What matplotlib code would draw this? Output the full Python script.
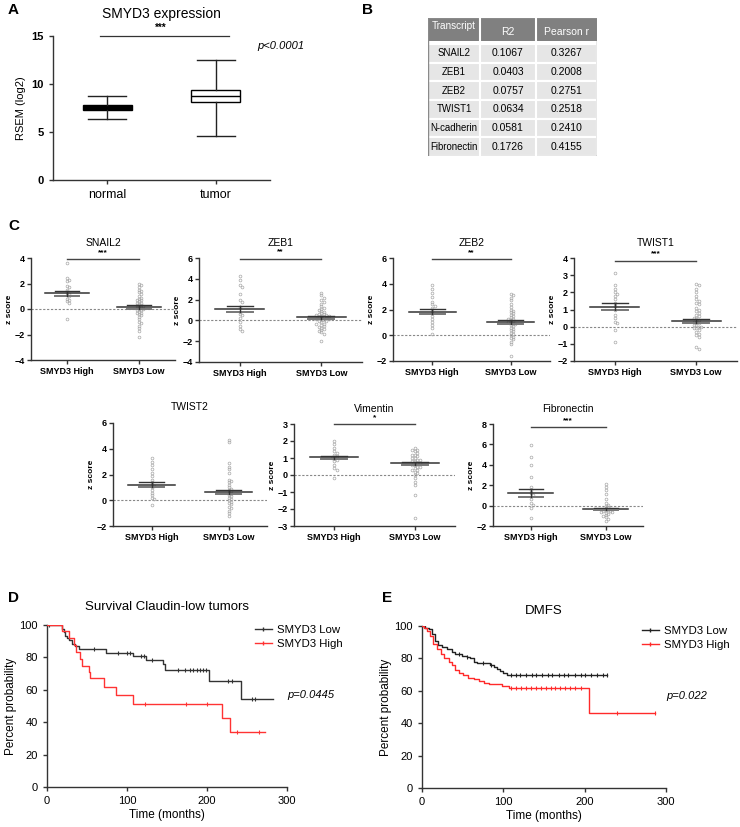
import numpy as np
import matplotlib.pyplot as plt
from matplotlib.lines import Line2D
from matplotlib.patches import Rectangle

plt.rcParams['font.family'] = ['Liberation Sans', 'DejaVu Sans']

# ---------------- data ----------------
# A: box plot summary (RSEM log2)
box_labels = ['normal', 'tumor']
box_whislo = [6.4, 4.6]
box_q1 = [7.3, 8.1]
box_med = [7.5, 8.7]
box_q3 = [7.8, 9.35]
box_whishi = [8.7, 12.5]

# B: correlation table
tbl_genes = ['SNAIL2', 'ZEB1', 'ZEB2', 'TWIST1', 'N-cadherin', 'Fibronectin']
tbl_r2 = ['0.1067', '0.0403', '0.0757', '0.0634', '0.0581', '0.1726']
tbl_pearson = ['0.3267', '0.2008', '0.2751', '0.2518', '0.2410', '0.4155']

# C: z scores per gene (SMYD3 High / SMYD3 Low)
group_labels = ['SMYD3 High', 'SMYD3 Low']
snail2_high = [3.6, 2.4, 2.3, 2.2, 1.8, 1.7, 1.5, 1.3, 1.2, 1.1, 1.0, 0.8, 0.7, 0.6, 0.5, -0.8]
snail2_low = [2.0, 1.9, 1.7, 1.5, 1.4, 1.3, 1.2, 1.0, 0.9, 0.8, 0.7, 0.7, 0.6, 0.5, 0.5, 0.4,
              0.3, 0.3, 0.2, 0.2, 0.1, 0.1, 0.0, 0.0, -0.1, -0.1, -0.2, -0.3, -0.3, -0.4,
              -0.5, -0.6, -0.8, -1.0, -1.1, -1.3, -1.5, -1.7, -2.2]
zeb1_high = [4.3, 3.9, 3.4, 3.2, 2.5, 2.0, 1.8, 1.3, 0.8, 0.6, 0.5, 0.2, -0.2, -0.5, -0.8, -1.0]
zeb1_low = [2.6, 2.4, 2.2, 2.0, 1.8, 1.6, 1.4, 1.2, 1.1, 1.0, 0.9, 0.8, 0.7, 0.6, 0.6, 0.5,
            0.5, 0.4, 0.4, 0.3, 0.3, 0.2, 0.2, 0.1, 0.1, 0.0, 0.0, -0.1, -0.1, -0.2, -0.3,
            -0.3, -0.4, -0.5, -0.6, -0.7, -0.8, -0.9, -1.0, -1.1, -1.3, -2.0]
zeb2_high = [3.9, 3.6, 3.3, 3.0, 2.6, 2.4, 2.3, 2.1, 1.9, 1.7, 1.5, 1.3, 1.0, 0.8, 0.6, 0.1]
zeb2_low = [3.2, 3.1, 2.9, 2.7, 2.4, 2.2, 2.0, 1.9, 1.8, 1.7, 1.6, 1.5, 1.4, 1.3, 1.3, 1.2,
            1.1, 1.0, 1.0, 0.9, 0.9, 0.8, 0.7, 0.6, 0.5, 0.4, 0.3, 0.2, 0.1, 0.0, -0.1,
            -0.2, -0.3, -0.5, -0.7, -1.6]
twist1_high = [3.1, 2.4, 2.2, 2.0, 1.9, 1.8, 1.6, 1.4, 1.2, 1.0, 0.7, 0.5, 0.3, 0.2, -0.2, -0.9]
twist1_low = [2.5, 2.4, 2.2, 2.0, 1.8, 1.6, 1.5, 1.4, 1.3, 1.1, 1.0, 0.9, 0.8, 0.7, 0.6, 0.5,
              0.5, 0.4, 0.3, 0.3, 0.2, 0.1, 0.1, 0.0, 0.0, -0.1, -0.1, -0.2, -0.3, -0.4,
              -0.5, -0.6, -1.2, -1.3]
twist2_high = [3.3, 3.0, 2.7, 2.4, 2.1, 1.9, 1.6, 1.4, 1.2, 1.1, 1.0, 0.8, 0.6, 0.4, 0.2, 0.1, -0.4]
twist2_low = [4.7, 4.5, 2.9, 2.6, 2.4, 2.1, 1.6, 1.5, 1.4, 1.2, 1.0, 0.9, 0.8, 0.7, 0.6, 0.5,
              0.4, 0.3, 0.2, 0.1, 0.0, -0.1, -0.2, -0.3, -0.5, -0.6, -0.8, -1.0, -1.2]
vim_high = [2.0, 1.8, 1.6, 1.4, 1.3, 1.2, 1.1, 1.0, 1.0, 0.9, 0.8, 0.6, 0.4, 0.3, -0.2]
vim_low = [1.6, 1.5, 1.5, 1.4, 1.3, 1.2, 1.2, 1.1, 1.0, 1.0, 0.9, 0.9, 0.8, 0.8, 0.7, 0.7,
           0.6, 0.6, 0.5, 0.5, 0.4, 0.3, 0.3, 0.2, 0.1, 0.0, -0.2, -0.4, -0.6, -1.2, -2.5]
fn_high = [5.9, 4.8, 4.0, 2.8, 1.8, 1.5, 1.2, 1.0, 0.6, 0.3, 0.1, -0.2, -1.2]
fn_low = [2.1, 1.8, 1.5, 1.1, 0.6, 0.3, 0.1, 0.0, -0.1, -0.2, -0.3, -0.3, -0.4, -0.4, -0.5,
          -0.5, -0.6, -0.6, -0.7, -0.8, -0.9, -1.0, -1.1, -1.3, -1.5]

# mean and SEM (High, Low)
gene_means = {'SNAIL2': (1.25, 0.15), 'ZEB1': (1.1, 0.28), 'ZEB2': (1.82, 1.05),
              'TWIST1': (1.15, 0.33), 'TWIST2': (1.22, 0.65), 'Vimentin': (1.03, 0.68),
              'Fibronectin': (1.25, -0.35)}
gene_sems = {'SNAIL2': (0.2, 0.13), 'ZEB1': (0.3, 0.12), 'ZEB2': (0.2, 0.15),
             'TWIST1': (0.2, 0.13), 'TWIST2': (0.22, 0.15), 'Vimentin': (0.08, 0.09),
             'Fibronectin': (0.38, 0.1)}
gene_sig = {'SNAIL2': '***', 'ZEB1': '**', 'ZEB2': '**', 'TWIST1': '***', 'TWIST2': '',
            'Vimentin': '*', 'Fibronectin': '***'}

# D: survival claudin-low tumors (step points and censor times, months / %)
d_low_t = [0, 18.7, 21, 23, 25, 27, 31, 35, 40, 74, 107, 124, 145, 147, 203, 242, 283]
d_low_s = [100, 97.5, 95.5, 93.5, 92, 90.5, 88, 87, 85, 83, 81, 78.5, 76, 72.5, 65.2, 54.5, 54.5]
d_low_cens = [3, 59, 89, 100, 104, 118, 121, 131, 164, 172, 179, 183, 187, 191, 195, 199,
              226, 231, 256, 260]
d_high_t = [0, 18.7, 27, 34, 36.6, 41.6, 43.6, 52, 54, 70.8, 86.4, 107, 219, 228.5, 272]
d_high_s = [100, 96, 92, 87.5, 83.5, 79, 75, 71, 67, 62, 57, 51, 42.5, 34, 34]
d_high_cens = [123, 174, 200, 238, 265]

# E: DMFS
e_low_t = [0, 4, 8, 12, 16, 20, 25, 31, 37, 41, 49, 55, 59, 64, 68, 84, 89, 92, 96, 100, 104, 228]
e_low_s = [100, 99, 98, 95, 91, 88, 87, 86, 84, 82.5, 81.5, 81, 80, 78, 77, 76, 75, 73.5, 72,
           71, 70, 70]
e_low_cens = [45, 55, 75, 85, 110, 115, 120, 128, 135, 140, 148, 155, 160, 168, 175, 180, 188,
              195, 200, 208, 215, 222, 228]
e_high_t = [0, 3, 6, 10, 14, 18, 23, 27, 33, 37, 41, 45, 51, 57, 64, 70, 76, 82, 98, 107, 205, 287]
e_high_s = [100, 99, 97, 94, 89, 86, 83, 80, 78, 76, 73, 71, 70, 68, 67, 66, 65, 64, 63, 62, 46, 46]
e_high_cens = [2, 110, 116, 122, 128, 134, 140, 146, 152, 158, 164, 170, 176, 182, 188, 195,
               240, 287]

# ---------------- figure ----------------
W, H = 740, 827
fig = plt.figure(figsize=(7.4, 8.27), dpi=100)
AX_COL = '#333333'


def add_ax(x0, y0, x1, y1):
    # axes from pixel box (top-left origin)
    return fig.add_axes([x0 / W, 1 - y1 / H, (x1 - x0) / W, (y1 - y0) / H])


def style(ax, fs, bold=False):
    for s in ['top', 'right']:
        ax.spines[s].set_visible(False)
    for s in ['left', 'bottom']:
        ax.spines[s].set_linewidth(1)
        ax.spines[s].set_color(AX_COL)
    ax.tick_params(width=1, length=3, labelsize=fs, color=AX_COL)
    if bold:
        for t in ax.get_yticklabels():
            t.set_fontweight('bold')


def panel_label(x, y, s):
    fig.text(x / W, 1 - y / H, s, fontsize=11, fontweight='bold', va='center', ha='left')


# ---- A ----
axA = add_ax(53, 36, 270, 180)
stats = []
for i in range(2):
    stats.append(dict(label=box_labels[i], whislo=box_whislo[i], q1=box_q1[i], med=box_med[i],
                      q3=box_q3[i], whishi=box_whishi[i], fliers=[]))
bp = axA.bxp(stats, positions=[0, 1], widths=0.45, capwidths=0.35, patch_artist=True,
             showfliers=False,
             boxprops=dict(linewidth=1, edgecolor='black'),
             whiskerprops=dict(linewidth=1, color='#222222'),
             capprops=dict(linewidth=1, color='#222222'),
             medianprops=dict(linewidth=1, color='black'))
for patch, fc in zip(bp['boxes'], ['black', 'white']):
    patch.set_facecolor(fc)
axA.set_xlim(-0.5, 1.5)
axA.set_ylim(0, 15)
axA.set_yticks([0, 5, 10, 15])
axA.set_xticks([0, 1])
axA.set_xticklabels(box_labels, fontsize=9)
style(axA, 8, bold=True)
axA.tick_params(axis='x', labelsize=9)
axA.set_ylabel('RSEM (log2)', fontsize=8)
axA.set_title('SMYD3 expression', fontsize=10, pad=13)
axA.plot([-0.07, 1.12], [15, 15], color='#333333', lw=0.9, clip_on=False)
axA.text(0.49, 15.3, '***', ha='center', va='bottom', fontsize=7, fontweight='bold')
axA.text(1.6, 14.0, 'p<0.0001', ha='center', va='center', fontsize=8, style='italic',
         clip_on=False)
panel_label(8, 10, 'A')

# ---- B: table ----
panel_label(362, 10, 'B')
axB = add_ax(428, 18, 597, 156)
axB.set_xlim(428, 597)
axB.set_ylim(156, 18)
axB.axis('off')
col_edges = [428, 480, 536, 597]
axB.add_patch(Rectangle((428, 18), 169, 23, facecolor='#808080', edgecolor='none'))
row_top = 44
row_h = (156 - 44) / len(tbl_genes)
for r in range(len(tbl_genes)):
    axB.add_patch(Rectangle((428, row_top + r * row_h), 169, row_h,
                            facecolor='#e6e6e6', edgecolor='white', lw=1.5))
for xe in col_edges[1:-1]:
    axB.plot([xe, xe], [18, 156], color='white', lw=1.5)
axB.add_patch(Rectangle((428, 18), 169, 138, facecolor='none', edgecolor='#8a8a8a', lw=1))
centers = [(col_edges[i] + col_edges[i + 1]) / 2 for i in range(3)]
axB.text(centers[0], 26, 'Transcript', color='white', ha='center', va='center', fontsize=7.2)
axB.text(centers[1], 32, 'R2', color='white', ha='center', va='center', fontsize=7.5)
axB.text(centers[2], 32, 'Pearson r', color='white', ha='center', va='center', fontsize=7.5)
for r in range(len(tbl_genes)):
    yc = row_top + (r + 0.5) * row_h
    axB.text(centers[0], yc, tbl_genes[r], ha='center', va='center', fontsize=6.9)
    axB.text(centers[1], yc, tbl_r2[r], ha='center', va='center', fontsize=7.5)
    axB.text(centers[2], yc, tbl_pearson[r], ha='center', va='center', fontsize=7.5)

# ---- C: dot plots ----
panel_label(8, 226, 'C')


def swarm_offsets(vals, ystep, dx):
    order = np.argsort(vals)[::-1]
    xs = np.zeros(len(vals))
    placed = []
    cands = [0]
    for k in range(1, 12):
        cands += [k * dx, -k * dx]
    for i in order:
        y = vals[i]
        for c in cands:
            if all(abs(y - py) >= ystep or abs(c - px) >= dx * 0.95 for px, py in placed):
                xs[i] = c
                placed.append((c, y))
                break
    return xs


c_panels = [
    ('SNAIL2', snail2_high, snail2_low, (31, 258, 175, 360), (-4, 4), [-4, -2, 0, 2, 4], 3.9),
    ('ZEB1', zeb1_high, zeb1_low, (199, 258, 362, 362), (-4, 6), [-4, -2, 0, 2, 4, 6], 5.95),
    ('ZEB2', zeb2_high, zeb2_low, (393, 258, 550, 361), (-2, 6), [-2, 0, 2, 4, 6], 5.9),
    ('TWIST1', twist1_high, twist1_low, (574, 258, 737, 361), (-2, 4), [-2, -1, 0, 1, 2, 3, 4], 3.85),
    ('TWIST2', twist2_high, twist2_low, (113, 423, 267, 526), (-2, 6), [-2, 0, 2, 4, 6], None),
    ('Vimentin', vim_high, vim_low, (294, 424, 455, 526), (-3, 3), [-3, -2, -1, 0, 1, 2, 3], 3.0),
    ('Fibronectin', fn_high, fn_low, (493, 424, 643, 526), (-2, 8), [-2, 0, 2, 4, 6, 8], 7.7),
]

for name, hi, lo, box, ylim, yticks, sig_y in c_panels:
    ax = add_ax(*box)
    yr = ylim[1] - ylim[0]
    ax.axhline(0, color='#888888', lw=0.8, ls=(0, (2, 1.5)), zorder=1)
    for gi, vals in enumerate([hi, lo]):
        v = np.array(vals)
        xo = swarm_offsets(v, yr * 0.02, 0.03)
        ax.plot(gi + xo, v, 'o', ms=2.0, mfc='none', mec='#a8a8a8', mew=0.5, zorder=2)
        m = gene_means[name][gi]
        s = gene_sems[name][gi]
        ax.plot([gi - 0.3, gi + 0.3], [m, m], color='#333333', lw=1.1, zorder=3)
        ax.plot([gi - 0.16, gi + 0.16], [m + s, m + s], color='#333333', lw=1, zorder=3)
        ax.plot([gi - 0.16, gi + 0.16], [m - s, m - s], color='#777777', lw=1.4, zorder=3)
        ax.plot([gi, gi], [m - s, m + s], color='#333333', lw=1, zorder=3)
    ax.set_xlim(-0.5, 1.5)
    ax.set_ylim(*ylim)
    ax.set_yticks(yticks)
    ax.set_xticks([0, 1])
    ax.set_xticklabels(group_labels, fontsize=6, fontweight='bold')
    style(ax, 6.5, bold=True)
    ax.tick_params(axis='x', labelsize=6.5, pad=2)
    ax.tick_params(axis='y', pad=1.5)
    for t in ax.get_xticklabels():
        t.set_fontweight('bold')
    ax.set_ylabel('z score', fontsize=6, fontweight='bold', labelpad=1)
    ax.set_title(name, fontsize=7.5, pad=9)
    if sig_y is not None:
        ax.plot([0, 1], [sig_y, sig_y], color='#444444', lw=1, clip_on=False)
        ax.text(0.5, sig_y + yr * 0.03, gene_sig[name], ha='center', va='bottom',
                fontsize=6, fontweight='bold')

# ---- D / E: Kaplan-Meier ----


def km(ax, t, s, cens, color):
    ax.step(t, s, where='post', color=color, lw=1, zorder=3)
    t = np.array(t)
    s = np.array(s)
    cy = [s[np.searchsorted(t, c, side='right') - 1] for c in cens]
    ax.plot(cens, cy, '|', color=color, ms=3, mew=0.8, zorder=3)


for lab, box, title, tpad, curves, ptxt, lx in [
        ('D', (47, 625, 287, 787), 'Survival Claudin-low tumors', 11,
         [(d_low_t, d_low_s, d_low_cens, '#333333'), (d_high_t, d_high_s, d_high_cens, '#ff3333')],
         'p=0.0445', 0.865),
        ('E', (422, 626, 666, 788), 'DMFS', 9,
         [(e_low_t, e_low_s, e_low_cens, '#222222'), (e_high_t, e_high_s, e_high_cens, '#ff2a2a')],
         'p=0.022', 0.9)]:
    ax = add_ax(*box)
    for t, s, c, col in curves:
        km(ax, t, s, c, col)
    ax.set_xlim(0, 300)
    ax.set_ylim(0, 100)
    ax.set_xticks([0, 100, 200, 300])
    ax.set_yticks([0, 20, 40, 60, 80, 100])
    style(ax, 8)
    ax.set_xlabel('Time (months)', fontsize=8.5, labelpad=2)
    ax.set_ylabel('Percent probability', fontsize=8.5, labelpad=2)
    ax.set_title(title, fontsize=9.5, pad=tpad)
    handles = [Line2D([], [], color=curves[0][3], lw=1, marker='|', ms=3),
               Line2D([], [], color=curves[1][3], lw=1, marker='|', ms=3)]
    ax.legend(handles, ['SMYD3 Low', 'SMYD3 High'], loc='upper left', bbox_to_anchor=(lx, 1.0),
              frameon=False, fontsize=8.2, borderpad=0, borderaxespad=0, handlelength=1.5,
              handletextpad=0.5, labelspacing=0.35)
    ax.text(1.0, 0.57, ptxt, transform=ax.transAxes, fontsize=8, style='italic',
            ha='left', va='center', clip_on=False)
    panel_label(box[0] - 39 if lab == 'D' else box[0] - 40, 598, lab)

fig.savefig('out.png', dpi=100)
